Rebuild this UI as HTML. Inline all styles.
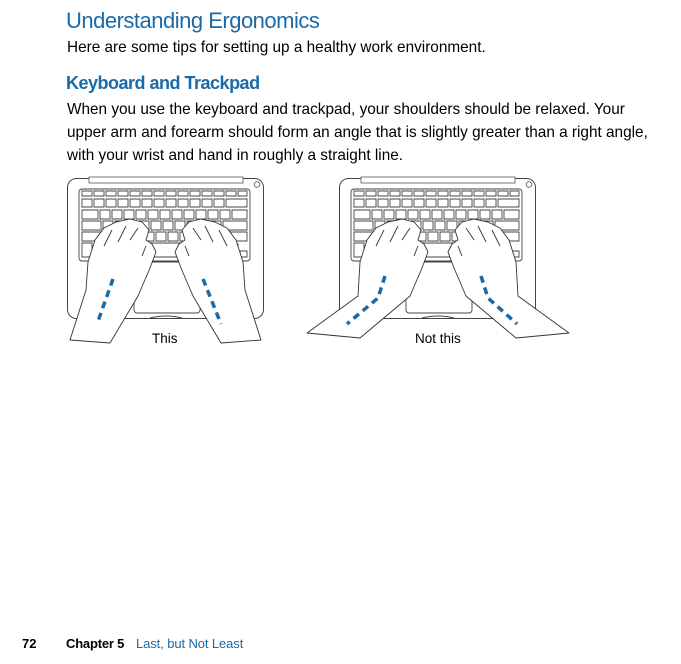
<!DOCTYPE html>
<html><head><meta charset="utf-8"><style>
html,body{margin:0;padding:0;background:#fff;}
body{width:681px;height:664px;position:relative;overflow:hidden;font-family:"Liberation Sans",sans-serif;}
.t{position:absolute;white-space:nowrap;}
.blue{color:#1a6aa8;}
</style></head><body>
<div class="t blue" style="left:66px;top:8px;font-size:22px;letter-spacing:-0.5px;">Understanding Ergonomics</div>
<div class="t" style="left:67px;top:39px;font-size:15.35px;">Here are some tips for setting up a healthy work environment.</div>
<div class="t blue" style="left:66px;top:73px;font-size:18px;font-weight:bold;letter-spacing:-0.5px;">Keyboard and Trackpad</div>
<div class="t" style="left:67px;top:98px;font-size:15.35px;line-height:23px;">When you use the keyboard and trackpad, your shoulders should be relaxed. Your<br>upper arm and forearm should form an angle that is slightly greater than a right angle,<br>with your wrist and hand in roughly a straight line.</div>

<svg style="position:absolute;left:0;top:0" width="681" height="664">
<defs>
<g id="lap">
<rect x="67.5" y="178.5" width="196" height="140" rx="9" fill="#fff" stroke="#444" stroke-width="1"/>
<rect x="89" y="177" width="154" height="6" fill="#fff" stroke="#555" stroke-width="0.8"/>
<circle cx="257" cy="184.5" r="2.8" fill="none" stroke="#555" stroke-width="0.8"/>
<rect x="79" y="189" width="171" height="72" rx="3" fill="#fff" stroke="#444" stroke-width="0.9"/>
<g fill="none" stroke="#444" stroke-width="0.9">
<path d="M82 191h10v5h-10zM94 191h10v5h-10zM106 191h10v5h-10zM118 191h10v5h-10zM130 191h10v5h-10zM142 191h10v5h-10zM154 191h10v5h-10zM166 191h10v5h-10zM178 191h10v5h-10zM190 191h10v5h-10zM202 191h10v5h-10zM214 191h10v5h-10zM226 191h10v5h-10zM238 191h9v5h-9z"/>
<path d="M82 199h10v8h-10zM94 199h10v8h-10zM106 199h10v8h-10zM118 199h10v8h-10zM130 199h10v8h-10zM142 199h10v8h-10zM154 199h10v8h-10zM166 199h10v8h-10zM178 199h10v8h-10zM190 199h10v8h-10zM202 199h10v8h-10zM214 199h10v8h-10zM226 199h21v8h-21z"/>
<path d="M82 210h16v9h-16zM100 210h10v9h-10zM112 210h10v9h-10zM124 210h10v9h-10zM136 210h10v9h-10zM148 210h10v9h-10zM160 210h10v9h-10zM172 210h10v9h-10zM184 210h10v9h-10zM196 210h10v9h-10zM208 210h10v9h-10zM220 210h10v9h-10zM232 210h15v9h-15z"/>
<path d="M82 221h19v9h-19zM103 221h10v9h-10zM115 221h10v9h-10zM127 221h10v9h-10zM139 221h10v9h-10zM151 221h10v9h-10zM163 221h10v9h-10zM175 221h10v9h-10zM187 221h10v9h-10zM199 221h10v9h-10zM211 221h10v9h-10zM223 221h24v9h-24z"/>
<path d="M82 232h24v9h-24zM108 232h10v9h-10zM120 232h10v9h-10zM132 232h10v9h-10zM144 232h10v9h-10zM156 232h10v9h-10zM168 232h10v9h-10zM180 232h10v9h-10zM192 232h10v9h-10zM204 232h10v9h-10zM216 232h31v9h-31z"/>
<path d="M82 243h10v14h-10zM94 243h10v14h-10zM106 243h12v14h-12zM120 243h70v14h-70zM192 243h12v14h-12zM206 243h10v14h-10zM218 251h9v6h-9zM229 244h9v6h-9zM229 251h9v6h-9zM240 251h7v6h-7z"/>
</g>
<rect x="134" y="262" width="66" height="51" rx="3" fill="#fff" stroke="#444" stroke-width="0.9"/>
<path d="M150 318 q16 -4 32 0" fill="none" stroke="#444" stroke-width="1"/>
</g>
</defs>
<use href="#lap"/>
<g fill="#fff" stroke="#333" stroke-width="0.9" stroke-linejoin="round">
<path d="M70 340 L86 290 L88 262 L95 240 L104 228 L116 222 L130 219 L142 222 L149 230 L146 240 L152 244 L156 252 L150 268 L138 296 L110 343 Z"/>
<path d="M261 340 L245 290 L243 262 L236 240 L227 228 L215 222 L201 219 L189 222 L182 230 L185 240 L179 244 L175 252 L181 268 L193 296 L221 343 Z"/>
<path d="M104 246 L112 230 M118 242 L126 226 M130 240 L138 228 M142 256 L146 246 M227 246 L219 230 M213 242 L205 226 M201 240 L193 228 M189 256 L185 246" fill="none"/>
</g>
<path d="M113 279 L97 324" stroke="#1a6aa8" stroke-width="3.5" stroke-dasharray="7,5" fill="none"/>
<path d="M203 279 L221 324" stroke="#1a6aa8" stroke-width="3.5" stroke-dasharray="7,5" fill="none"/>

<use href="#lap" x="272"/>
<g fill="#fff" stroke="#333" stroke-width="0.9" stroke-linejoin="round">
<path d="M307 333 L358 296 L360 262 L367 240 L376 228 L388 222 L402 219 L414 222 L421 230 L418 240 L424 244 L428 252 L422 268 L410 296 L360 338 Z"/>
<path d="M569 333 L518 296 L516 262 L509 240 L500 228 L488 222 L474 219 L462 222 L455 230 L458 240 L452 244 L448 252 L454 268 L466 296 L516 338 Z"/>
<path d="M376 246 L384 230 M390 242 L398 226 M402 240 L410 228 M414 256 L418 246 M500 246 L492 230 M486 242 L478 226 M474 240 L466 228 M462 256 L458 246" fill="none"/>
</g>
<path d="M385 276 L378 298 L347 324" stroke="#1a6aa8" stroke-width="3.5" stroke-dasharray="7,5" fill="none"/>
<path d="M481 276 L488 298 L517 324" stroke="#1a6aa8" stroke-width="3.5" stroke-dasharray="7,5" fill="none"/>
</svg>

<div class="t" style="left:152px;top:331px;font-size:13.5px;">This</div>
<div class="t" style="left:415px;top:331px;font-size:13.5px;">Not this</div>

<div class="t" style="left:22px;top:636px;font-size:13px;font-weight:bold;">72</div>
<div class="t" style="left:66px;top:636px;font-size:13px;font-weight:bold;letter-spacing:-0.2px;">Chapter 5</div>
<div class="t blue" style="left:136px;top:636px;font-size:13px;letter-spacing:-0.1px;">Last, but Not Least</div>
</body></html>
